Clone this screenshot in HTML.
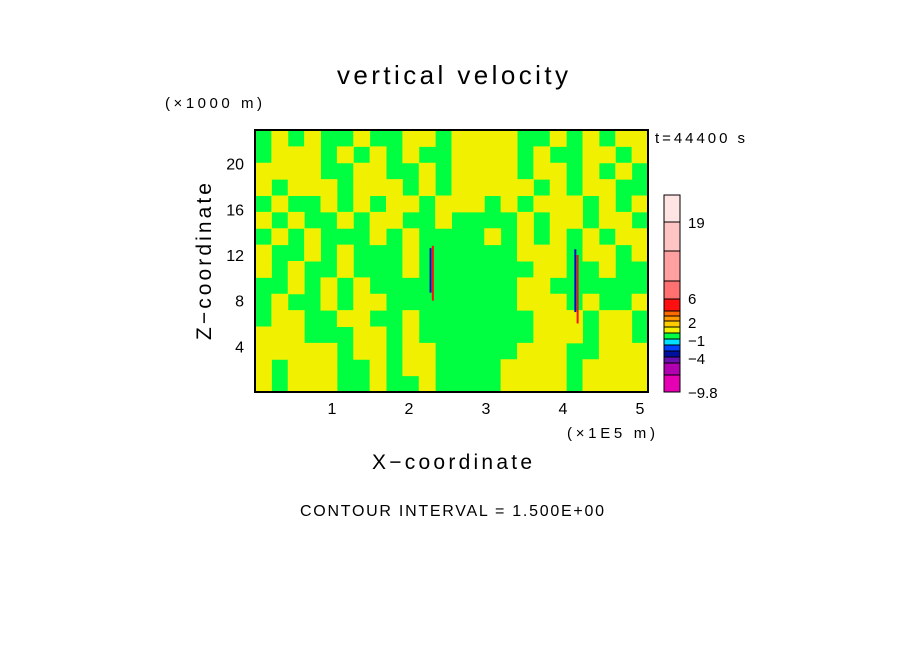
<!DOCTYPE html>
<html><head><meta charset="utf-8"><style>
body{margin:0;background:#fff;}
svg text{font-family:"Liberation Sans",sans-serif;fill:#000;}
</style></head><body>
<svg id="c" width="904" height="654" xmlns="http://www.w3.org/2000/svg">
<text x="337" y="84" font-size="26" textLength="231" lengthAdjust="spacing">vertical velocity</text>
<text x="165" y="108" font-size="15" textLength="97" lengthAdjust="spacing">(×1000 m)</text>
<text x="655" y="143" font-size="15" textLength="90" lengthAdjust="spacing">t=44400 s</text>
<text x="567" y="438" font-size="15" textLength="88" lengthAdjust="spacing">(×1E5 m)</text>
<text x="372" y="469" font-size="21" textLength="160" lengthAdjust="spacing">X−coordinate</text>
<text transform="translate(211,340) rotate(-90)" font-size="21" textLength="157" lengthAdjust="spacing">Z−coordinate</text>
<text x="300" y="516" font-size="16" textLength="304" lengthAdjust="spacing">CONTOUR INTERVAL = 1.500E+00</text>
<g id="field"></g>
<g id="axes"></g>
<g id="cbar"></g>
</svg>
<script>
// grid of vertical velocity classes (rows top->bottom), G=green(~0), Y=yellow(~1)
const gridRows = [
"GYGYGGYGGYYGYYYYGGYGYGYY",
"GYYYGYGYGYGGYYYYGYGGYYGY",
"YYYYGGYYGGYGYYYYGYYGYGYG",
"YGYYYGYYYGYGYYYYYGYGYYGG",
"GYGGYGYGYYGYYYGYGYYYGYGY",
"YGYGGYGYYGGYGGGGYGYYGYYG",
"GYGYGGGYGYGGGGYGYGYGYGYY",
"YGGYGYGGGYGGGGGGYYYGYYGY",
"YGYGGYGGGYGGGGGGGYYGGYGG",
"GGYGYGYGGGGGGGGGYYGGGGGG",
"GYGGYGYYGGGGGGGGYYYGYGGY",
"GYYGGYYGGYGGGGGGGYYYGYYG",
"YYYGGGYYGYGGGGGGGYYYGYYG",
"YYYYYGYYGYYGGGGGYYYGGYYY",
"YGYYYGGYGYYGGGGYYYYGYYYY",
"YGYYYGGYGGYGGGGYYYYGYYYY"
];
const xTicks=[1,2,3,4,5];
const zTicks=[4,8,12,16,20];
// narrow strong updraft/downdraft streaks: x (1e5 m), z0,z1 (km), value
const streakX=[2.28,2.31,4.16,4.19];
const streakZ0=[8.7,8.0,7.0,6.0];
const streakZ1=[12.6,12.8,12.5,12.0];
const streakVal=[-4,6,-4,6];
// colorbar levels (bottom->top) and labels
const cbColors=["#e600b4","#b000b0","#6a10b0","#0010a0","#0040ff","#00e0ff","#00ff40","#f0f000","#ffcc00","#ff9900","#ff6a00","#ff1010","#ff7070","#ffa0a0","#ffc4c4","#ffe4e4"];
const cbHeights=[17,12,6,6,6,6,6,6,6,5,5,12,18,30,29,27];
const cbLabels=["−9.8","−4","−1","2","6","19"];
const cbLabelY=[392,358,340,322,298,222];

const L=255,R=648,T=130,B=392;
const sx=v=>L+v*77, sz=v=>B-v*11.42;
const ns="http://www.w3.org/2000/svg";
function mk(t,a,p){const e=document.createElementNS(ns,t);for(const k in a)e.setAttribute(k,a[k]);p.appendChild(e);return e;}
const field=document.getElementById('field');
const nr=gridRows.length,nc=gridRows[0].length,cw=(R-L)/nc,ch=(B-T)/nr;
mk('rect',{x:L,y:T,width:R-L,height:B-T,fill:'#00ff40'},field);
gridRows.forEach((row,r)=>{[...row].forEach((c,i)=>{
 if(c==='Y'){const e=mk('rect',{x:L+i*cw,y:T+r*ch,width:cw+0.5,height:ch+0.5,fill:'#f0f000'},field);
 
 }
});});
streakX.forEach((x,i)=>{
 const col=streakVal[i]<0?'#0010c0':'#ff1010';
 const e=mk('rect',{x:sx(x)-1,y:sz(streakZ1[i]),width:2,height:sz(streakZ0[i])-sz(streakZ1[i]),fill:col},field);
 
 
});
const ax=document.getElementById('axes');
const fr=mk('rect',{x:L,y:T,width:R-L,height:B-T,fill:'none',stroke:'#000','stroke-width':2},ax);


xTicks.forEach(v=>{const t=mk('text',{x:sx(v),y:414,'font-size':16,'text-anchor':'middle'},ax);t.textContent=v;
 
 });
zTicks.forEach(v=>{const t=mk('text',{x:244,y:sz(v)+6,'font-size':16,'text-anchor':'end'},ax);t.textContent=v;
 
 });
const cb=document.getElementById('cbar');
let y=B;
cbColors.forEach((c,i)=>{y-=cbHeights[i];
 const e=mk('rect',{x:664,y:y,width:16,height:cbHeights[i],fill:c,stroke:'#000','stroke-width':1},cb);
 
 });
cbLabels.forEach((l,i)=>{const t=mk('text',{x:688,y:cbLabelY[i]+6,'font-size':15},cb);t.textContent=l;
 
 });
</script>
</body></html>
